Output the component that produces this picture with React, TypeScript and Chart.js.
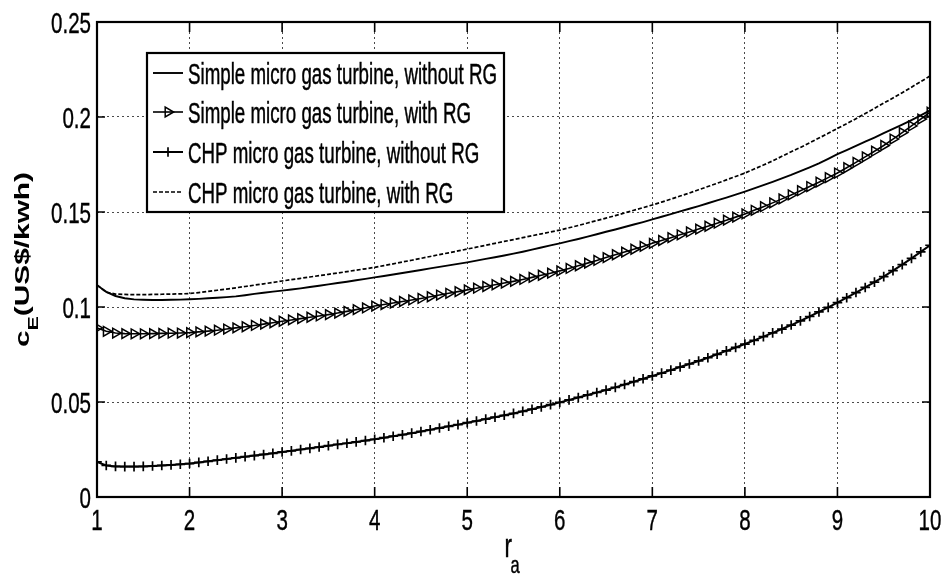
import React, { useEffect, useRef } from "react";
import { Chart, registerables } from "chart.js";

Chart.register(...registerables);

const ra = [
  1.0, 1.1, 1.2, 1.3, 1.4, 1.5, 1.6, 1.7, 1.8, 1.9,
  2.0, 2.1, 2.2, 2.3, 2.4, 2.5, 2.6, 2.7, 2.8, 2.9,
  3.0, 3.1, 3.2, 3.3, 3.4, 3.5, 3.6, 3.7, 3.8, 3.9,
  4.0, 4.1, 4.2, 4.3, 4.4, 4.5, 4.6, 4.7, 4.8, 4.9,
  5.0, 5.1, 5.2, 5.3, 5.4, 5.5, 5.6, 5.7, 5.8, 5.9,
  6.0, 6.1, 6.2, 6.3, 6.4, 6.5, 6.6, 6.7, 6.8, 6.9,
  7.0, 7.1, 7.2, 7.3, 7.4, 7.5, 7.6, 7.7, 7.8, 7.9,
  8.0, 8.1, 8.2, 8.3, 8.4, 8.5, 8.6, 8.7, 8.8, 8.9,
  9.0, 9.1, 9.2, 9.3, 9.4, 9.5, 9.6, 9.7, 9.8, 9.9,
  10.0,
];

// Simple micro gas turbine, without RG (solid)
const simpleNoRG = [
  0.1115, 0.1080, 0.1058, 0.1046, 0.1040, 0.1038, 0.1037, 0.1037, 0.1038, 0.1039,
  0.1041, 0.1043, 0.1046, 0.1049, 0.1052, 0.1056, 0.1062, 0.1069, 0.1075, 0.1081,
  0.1086, 0.1092, 0.1098, 0.1105, 0.1112, 0.1119, 0.1126, 0.1133, 0.1141, 0.1148,
  0.1156, 0.1163, 0.1171, 0.1179, 0.1187, 0.1195, 0.1203, 0.1211, 0.1219, 0.1227,
  0.1235, 0.1244, 0.1253, 0.1262, 0.1271, 0.1281, 0.1291, 0.1302, 0.1313, 0.1324,
  0.1335, 0.1347, 0.1358, 0.1370, 0.1383, 0.1396, 0.1408, 0.1421, 0.1434, 0.1447,
  0.1461, 0.1475, 0.1489, 0.1503, 0.1517, 0.1531, 0.1546, 0.1561, 0.1576, 0.1591,
  0.1607, 0.1624, 0.1641, 0.1659, 0.1677, 0.1695, 0.1715, 0.1735, 0.1756, 0.1780,
  0.1805, 0.1826, 0.1848, 0.1870, 0.1892, 0.1915, 0.1937, 0.1960, 0.1984, 0.2009,
  0.2035,
];

// Simple micro gas turbine, with RG (right triangles)
const simpleRG = [
  0.0890, 0.0872, 0.0863, 0.0860, 0.0859, 0.0859, 0.0860, 0.0861, 0.0862, 0.0863,
  0.0865, 0.0869, 0.0873, 0.0878, 0.0884, 0.0890, 0.0896, 0.0903, 0.0910, 0.0917,
  0.0925, 0.0932, 0.0939, 0.0946, 0.0953, 0.0960, 0.0968, 0.0977, 0.0986, 0.0995,
  0.1005, 0.1013, 0.1021, 0.1029, 0.1037, 0.1045, 0.1054, 0.1063, 0.1072, 0.1081,
  0.1090, 0.1099, 0.1108, 0.1117, 0.1126, 0.1135, 0.1145, 0.1156, 0.1167, 0.1178,
  0.1190, 0.1203, 0.1217, 0.1231, 0.1245, 0.1260, 0.1275, 0.1289, 0.1304, 0.1319,
  0.1335, 0.1350, 0.1365, 0.1380, 0.1395, 0.1410, 0.1425, 0.1441, 0.1457, 0.1473,
  0.1490, 0.1509, 0.1528, 0.1548, 0.1569, 0.1590, 0.1612, 0.1634, 0.1657, 0.1681,
  0.1705, 0.1733, 0.1761, 0.1790, 0.1820, 0.1850, 0.1884, 0.1918, 0.1953, 0.1989,
  0.2025,
];

// CHP micro gas turbine, without RG (plus markers)
const chpNoRG = [
  0.0185, 0.0166, 0.0161, 0.0160, 0.0160, 0.0161, 0.0163, 0.0166, 0.0169, 0.0172,
  0.0176, 0.0182, 0.0188, 0.0194, 0.0200, 0.0206, 0.0212, 0.0218, 0.0224, 0.0230,
  0.0237, 0.0243, 0.0250, 0.0256, 0.0263, 0.0270, 0.0277, 0.0283, 0.0290, 0.0297,
  0.0304, 0.0312, 0.0320, 0.0328, 0.0336, 0.0345, 0.0354, 0.0363, 0.0372, 0.0381,
  0.0391, 0.0400, 0.0410, 0.0420, 0.0430, 0.0440, 0.0451, 0.0462, 0.0474, 0.0486,
  0.0498, 0.0511, 0.0524, 0.0537, 0.0550, 0.0563, 0.0577, 0.0592, 0.0607, 0.0622,
  0.0637, 0.0652, 0.0668, 0.0684, 0.0700, 0.0716, 0.0733, 0.0751, 0.0769, 0.0787,
  0.0805, 0.0824, 0.0844, 0.0864, 0.0884, 0.0905, 0.0927, 0.0950, 0.0974, 0.0998,
  0.1023, 0.1049, 0.1076, 0.1103, 0.1131, 0.1160, 0.1191, 0.1223, 0.1256, 0.1290,
  0.1325,
];

// CHP micro gas turbine, with RG (dashed)
const chpRG = [
  0.1116, 0.1078, 0.1068, 0.1066, 0.1065, 0.1065, 0.1066, 0.1067, 0.1068, 0.1069,
  0.1071, 0.1076, 0.1082, 0.1088, 0.1094, 0.1101, 0.1108, 0.1115, 0.1122, 0.1129,
  0.1137, 0.1144, 0.1151, 0.1158, 0.1165, 0.1172, 0.1179, 0.1186, 0.1194, 0.1201,
  0.1209, 0.1218, 0.1227, 0.1237, 0.1246, 0.1256, 0.1266, 0.1276, 0.1285, 0.1295,
  0.1305, 0.1315, 0.1325, 0.1335, 0.1345, 0.1355, 0.1365, 0.1375, 0.1385, 0.1395,
  0.1405, 0.1417, 0.1429, 0.1442, 0.1455, 0.1468, 0.1481, 0.1495, 0.1509, 0.1523,
  0.1537, 0.1552, 0.1568, 0.1584, 0.1600, 0.1617, 0.1634, 0.1651, 0.1669, 0.1687,
  0.1705, 0.1726, 0.1747, 0.1769, 0.1793, 0.1817, 0.1840, 0.1864, 0.1889, 0.1914,
  0.1940, 0.1965, 0.1991, 0.2018, 0.2045, 0.2073, 0.2100, 0.2128, 0.2157, 0.2186,
  0.2216,
];

const seriesNames = [
  "Simple micro gas turbine, without RG",
  "Simple micro gas turbine, with RG",
  "CHP micro gas turbine, without RG",
  "CHP micro gas turbine, with RG",
];

const xMin = 1;
const xMax = 10;
const yMin = 0;
const yMax = 0.25;
const yStep = 0.05;
const xTickLabels = ["1", "2", "3", "4", "5", "6", "7", "8", "9", "10"];
const yTickLabels = ["0", "0.05", "0.1", "0.15", "0.2", "0.25"];

const SANS = '"Liberation Sans", Arial, Helvetica, sans-serif';

function toPoints(ys: number[]) {
  return ra.map((x, i) => ({ x, y: ys[i] }));
}

function stretchedText(
  ctx: CanvasRenderingContext2D,
  text: string,
  x: number,
  y: number,
  font: string,
  sx: number,
  sy: number,
  align: CanvasTextAlign = "left",
  heavy = 0
) {
  ctx.save();
  ctx.font = font;
  ctx.translate(x, y);
  ctx.scale(sx, sy);
  ctx.textAlign = align;
  ctx.textBaseline = "alphabetic";
  ctx.fillText(text, 0, 0);
  if (heavy > 0) {
    ctx.lineWidth = heavy;
    ctx.strokeStyle = ctx.fillStyle as string;
    ctx.strokeText(text, 0, 0);
  }
  ctx.restore();
}

function drawMarker(ctx: CanvasRenderingContext2D, style: string, x: number, y: number, r: number, rot: number) {
  ctx.save();
  ctx.translate(x, y);
  ctx.rotate((rot * Math.PI) / 180);
  ctx.beginPath();
  if (style === "triangle") {
    ctx.moveTo(0, -r);
    ctx.lineTo(r * 0.866, r * 0.5);
    ctx.lineTo(-r * 0.866, r * 0.5);
    ctx.closePath();
  } else if (style === "cross") {
    ctx.moveTo(0, -r);
    ctx.lineTo(0, r);
    ctx.moveTo(-r, 0);
    ctx.lineTo(r, 0);
  }
  ctx.stroke();
  ctx.restore();
}

const TICK_FONT = "30px " + SANS;
const TICK_SX = 0.685;

const framePlugin = {
  id: "matlabFrame",
  afterDatasetsDraw(chart: any) {
    const { ctx, chartArea } = chart;
    const { left, right, top, bottom } = chartArea;
    const xs = chart.scales.x;
    const ys = chart.scales.y;
    ctx.save();
    ctx.strokeStyle = "#000";
    ctx.lineWidth = 1.6;
    ctx.setLineDash([]);
    const tl = 10;
    ctx.beginPath();
    xs.ticks.forEach((t: any) => {
      const px = xs.getPixelForValue(t.value);
      ctx.moveTo(px, bottom);
      ctx.lineTo(px, bottom - tl);
      ctx.moveTo(px, top);
      ctx.lineTo(px, top + tl);
    });
    ys.ticks.forEach((t: any) => {
      const py = ys.getPixelForValue(t.value);
      ctx.moveTo(left, py);
      ctx.lineTo(left + tl * 0.8, py);
      ctx.moveTo(right, py);
      ctx.lineTo(right - tl * 0.8, py);
    });
    ctx.stroke();
    ctx.lineWidth = 2.2;
    ctx.strokeRect(left, top, right - left, bottom - top);

    // tick labels, placed through the scales
    ctx.fillStyle = "#000";
    xs.ticks.forEach((t: any, i: number) => {
      const px = xs.getPixelForValue(t.value);
      stretchedText(ctx, xTickLabels[i], px, bottom + 33, TICK_FONT, TICK_SX, 1, "center", 0.4);
    });
    ys.ticks.forEach((t: any, i: number) => {
      const py = ys.getPixelForValue(t.value);
      stretchedText(ctx, yTickLabels[i], left - 6, py + 11, TICK_FONT, TICK_SX, 1, "right", 0.4);
    });
    ctx.restore();
  },
};

const annotationPlugin = {
  id: "matlabText",
  afterDraw(chart: any) {
    const ctx: CanvasRenderingContext2D = chart.ctx;
    const { left, right, top, bottom } = chart.chartArea;
    ctx.save();

    // Legend box
    const bx = left + 50;
    const by = top + 31;
    const bw = 357;
    const bh = 159;
    ctx.fillStyle = "#fff";
    ctx.fillRect(bx, by, bw, bh);
    ctx.strokeStyle = "#000";
    ctx.lineWidth = 2.2;
    ctx.strokeRect(bx, by, bw, bh);

    const legendFont = "30px " + SANS;
    ctx.font = legendFont;
    const k = 309 / ctx.measureText(seriesNames[0]).width;
    const rowY = [by + 20, by + 59, by + 99, by + 139];
    const sx0 = bx + 6;
    const sx1 = bx + 36;
    chart.data.datasets.forEach((ds: any, i: number) => {
      const cy = rowY[i];
      ctx.save();
      ctx.strokeStyle = "#000";
      ctx.lineWidth = ds.borderWidth;
      ctx.setLineDash(ds.borderDash || []);
      ctx.beginPath();
      ctx.moveTo(sx0, cy);
      ctx.lineTo(sx1, cy);
      ctx.stroke();
      ctx.restore();
      if (ds.pointRadius > 0) {
        ctx.save();
        ctx.setLineDash([]);
        ctx.lineWidth = ds.pointBorderWidth;
        ctx.strokeStyle = "#000";
        drawMarker(ctx, ds.pointStyle, (sx0 + sx1) / 2, cy, ds.pointRadius, ds.pointRotation || 0);
        ctx.restore();
      }
      ctx.fillStyle = "#000";
      stretchedText(ctx, seriesNames[i], sx1 + 5, cy + 11, legendFont, k, 1, "left", 0.5);
    });

    // X axis title: r_a
    const xc = (left + right) / 2;
    ctx.fillStyle = "#000";
    stretchedText(ctx, "r", xc - 9, bottom + 60, "30px " + SANS, 0.75, 1.1, "left", 0.4);
    stretchedText(ctx, "a", xc - 3, bottom + 76, "22px " + SANS, 0.75, 1.1, "left", 0.4);

    // Y axis title: c_E(US$/kwh), rotated
    const yc = (top + bottom) / 2;
    const mainFont = "bold 21px " + SANS;
    const subFont = "bold 15px " + SANS;
    ctx.font = mainFont;
    const wc = ctx.measureText("c").width;
    const wRest = ctx.measureText("(US$/kwh)").width;
    ctx.font = subFont;
    const wE = ctx.measureText("E").width;
    const total = wc + wE + wRest;
    const along = 175 / total;
    ctx.save();
    ctx.translate(29, yc + 175 / 2);
    ctx.rotate(-Math.PI / 2);
    ctx.scale(along, 1);
    ctx.textBaseline = "alphabetic";
    ctx.font = mainFont;
    ctx.fillText("c", 0, 0);
    ctx.font = subFont;
    ctx.fillText("E", wc, 9);
    ctx.font = mainFont;
    ctx.fillText("(US$/kwh)", wc + wE, 0);
    ctx.restore();

    ctx.restore();
  },
};

export default function App() {
  const canvasRef = useRef<HTMLCanvasElement | null>(null);

  useEffect(() => {
    const canvas = canvasRef.current;
    if (!canvas) return;
    const gridColor = "#4a4a4a";
    const chart = new Chart(canvas, {
      type: "line",
      data: {
        datasets: [
          {
            label: seriesNames[0],
            data: toPoints(simpleNoRG),
            borderColor: "#000",
            borderWidth: 1.9,
            pointRadius: 0,
            tension: 0,
          },
          {
            label: seriesNames[1],
            data: toPoints(simpleRG),
            borderColor: "#000",
            borderWidth: 1.6,
            pointStyle: "triangle",
            pointRotation: 90,
            pointRadius: 5.6,
            pointBorderWidth: 1.5,
            pointBorderColor: "#000",
            pointBackgroundColor: "rgba(0,0,0,0)",
            tension: 0,
          },
          {
            label: seriesNames[2],
            data: toPoints(chpNoRG),
            borderColor: "#000",
            borderWidth: 2,
            pointStyle: "cross",
            pointRadius: 4.8,
            pointBorderWidth: 1.7,
            pointBorderColor: "#000",
            pointBackgroundColor: "rgba(0,0,0,0)",
            tension: 0,
          },
          {
            label: seriesNames[3],
            data: toPoints(chpRG),
            borderColor: "#000",
            borderWidth: 1.7,
            borderDash: [4, 2],
            pointRadius: 0,
            tension: 0,
          },
        ],
      } as any,
      options: {
        animation: false,
        responsive: false,
        devicePixelRatio: 1,
        events: [],
        layout: { padding: { top: 22, right: 16, left: 0, bottom: 0 } },
        plugins: {
          legend: { display: false },
          title: { display: false },
          tooltip: { enabled: false },
        },
        scales: {
          x: {
            type: "linear",
            min: xMin,
            max: xMax,
            ticks: { stepSize: 1, display: false, autoSkip: false },
            grid: { color: gridColor, lineWidth: 1, drawTicks: false },
            border: { display: false, dash: [2, 3] },
            afterFit: (scale: any) => {
              scale.height = 80;
            },
          },
          y: {
            type: "linear",
            min: yMin,
            max: yMax,
            ticks: { stepSize: yStep, display: false },
            grid: { color: gridColor, lineWidth: 1, drawTicks: false },
            border: { display: false, dash: [2, 3] },
            afterFit: (scale: any) => {
              scale.width = 97;
            },
          },
        },
      } as any,
      plugins: [framePlugin, annotationPlugin],
    });
    return () => chart.destroy();
  }, []);

  return (
    <div style={{ position: "fixed", left: 0, top: 0, width: 946, height: 577, background: "#fff" }}>
      <canvas ref={canvasRef} width={946} height={577} style={{ display: "block", width: 946, height: 577 }} />
    </div>
  );
}
